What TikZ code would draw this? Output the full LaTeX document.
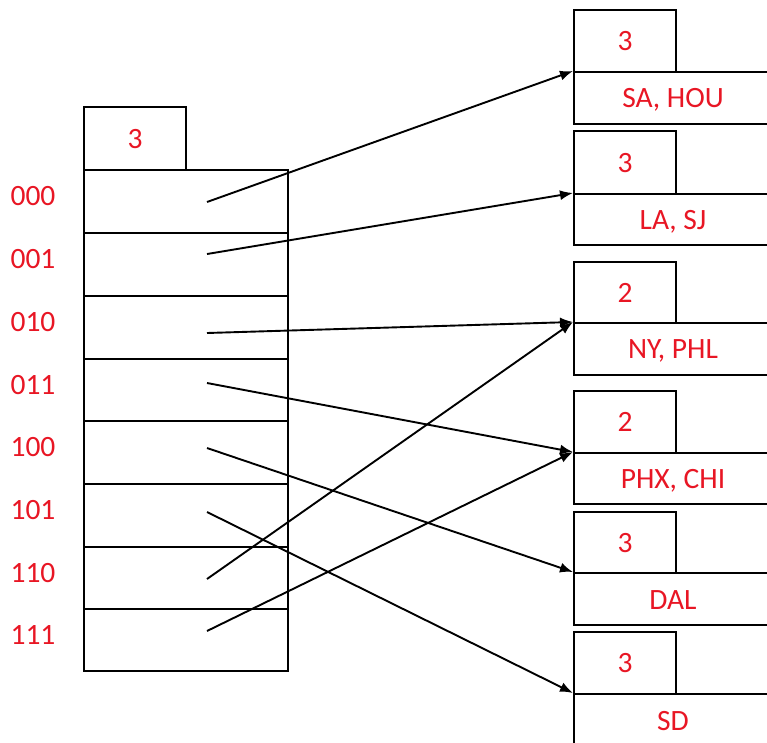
\documentclass[tikz,border=0pt]{standalone}
\usepackage{fontspec}
\setmainfont{Carlito}
\usetikzlibrary{arrows.meta}
\definecolor{lblred}{RGB}{232,22,36}
\begin{document}
\begin{tikzpicture}[x=1pt,y=-1pt,
  box/.style={draw=black,line width=2.4pt,inner sep=0pt,anchor=north west},
  lbl/.style={text=lblred,font=\fontsize{29.5}{31}\selectfont},
  ptr/.style={draw=black,line width=1.9pt,-{Latex[length=13pt,width=10pt]}}]
\useasboundingbox (0,0) rectangle (767,742);
\clip (0,0) rectangle (767,742);
% directory
\node[box,lbl,minimum width=102pt,minimum height=63pt] (dtop) at (83,106) {3};
\foreach \i/\lab/\ty/\h/\sy in {0/000/169/63/202,1/001/232/63/254,2/010/295/63/333,3/011/358/62/383,4/100/420/63/448,5/101/483/63/512,6/110/546/62/579,7/111/608/62/631}{
  \node[box,minimum width=204pt,minimum height=\h] (c\i) at (83,\ty) {};
  \node[lbl] (l\i) at (33,\ty+27) {\lab};
  \coordinate (s\i) at (207,\sy);
}
% buckets
\foreach \j/\top/\mid/\bot/\d/\txt in {1/9/71/123/3/{SA, HOU},2/130/193/244/3/{LA, SJ},3/261/322/374/2/{NY, PHL},4/390/452/503/2/{PHX, CHI},5/511/572/624/3/DAL,6/631/693/800/3/SD}{
  \node[box,lbl,minimum width=102pt,minimum height=\mid-\top] (h\j) at (573,\top) {\d};
  \node[box,lbl,minimum width=200pt,minimum height=\bot-\mid] (b\j) at (573,\mid) {};
  \node[lbl] (t\j) at (673,\mid+28.5) {\txt};
}
% pointers
\draw[ptr] (s0) -- (b1.north west);
\draw[ptr] (s1) -- (b2.north west);
\draw[ptr] (s2) -- (b3.north west);
\draw[ptr] (s3) -- (b4.north west);
\draw[ptr] (s4) -- (b5.north west);
\draw[ptr] (s5) -- (b6.north west);
\draw[ptr] (s6) -- (b3.north west);
\draw[ptr] (s7) -- (b4.north west);
\end{tikzpicture}
\end{document}
